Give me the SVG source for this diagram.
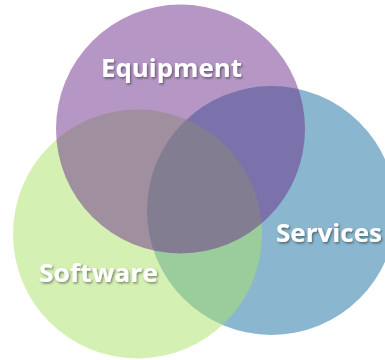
<svg xmlns="http://www.w3.org/2000/svg" width="385" height="360" viewBox="0 0 385 360">
<defs>
<style>
.lbl{font-family:"Open Sans","Liberation Sans",sans-serif;font-weight:bold;font-size:25px;fill:#ffffff;filter:url(#sh)}
.c{fill-opacity:0.5}
</style>
<filter id="sh" x="-10%" y="-30%" width="130%" height="170%">
<feDropShadow dx="1.2" dy="1.5" stdDeviation="1" flood-color="#000" flood-opacity="0.45"/>
</filter>
</defs>
<rect width="385" height="360" fill="#ffffff"/>
<g id="services"><circle class="c" cx="271.5" cy="210.5" r="124.5" fill="rgb(21,111,159)"/></g>
<g id="software"><circle class="c" cx="137.5" cy="234" r="124.5" fill="rgb(171,225,103)"/></g>
<g id="equipment"><circle class="c" cx="180.5" cy="129" r="124.5" fill="rgb(107,45,137)"/></g>
<g id="labels">
<text class="lbl" x="101" y="77" textLength="141" lengthAdjust="spacingAndGlyphs">Equipment</text>
<text class="lbl" x="276" y="242" textLength="106" lengthAdjust="spacingAndGlyphs">Services</text>
<text class="lbl" x="39" y="282" textLength="119" lengthAdjust="spacingAndGlyphs">Software</text>
</g>
</svg>
